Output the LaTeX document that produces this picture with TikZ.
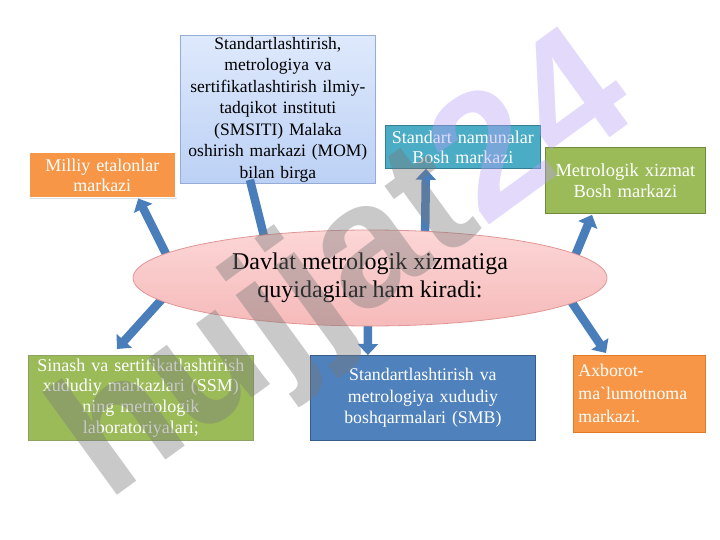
\documentclass[tikz,border=0pt]{standalone}
\usepackage{fontspec}
\setmainfont{Liberation Serif}
\newfontfamily\rawserif{Liberation Serif}[Ligatures=TeXOff]
\newfontfamily\wmfont{Liberation Sans}
\usetikzlibrary{shapes.geometric,arrows.meta,calc,shadows}
\definecolor{orangeF}{RGB}{247,150,70}
\definecolor{orangeD}{RGB}{228,122,40}
\definecolor{greenF}{RGB}{155,187,89}
\definecolor{greenD}{RGB}{113,137,63}
\definecolor{tealF}{RGB}{75,172,198}
\definecolor{tealD}{RGB}{53,125,145}
\definecolor{blueF}{RGB}{79,129,189}
\definecolor{blueD}{RGB}{56,93,138}
\definecolor{lbTop}{RGB}{222,233,252}
\definecolor{lbBot}{RGB}{188,209,245}
\definecolor{lbD}{RGB}{148,172,214}
\definecolor{pinkTop}{RGB}{252,214,214}
\definecolor{pinkBot}{RGB}{246,186,186}
\definecolor{pinkD}{RGB}{224,150,150}
\definecolor{arrowC}{RGB}{74,126,187}
\definecolor{wmGray}{RGB}{120,120,120}
\definecolor{wmViolet}{RGB}{185,160,245}
\tikzset{
  cbox/.style={rectangle, anchor=north west, inner sep=1pt, align=center,
    font=\fontsize{18}{20}\selectfont, text=white},
  barrow/.style={line width=8.5pt, draw=arrowC, -{Triangle[width=20pt,length=11pt]}},
  bline/.style={line width=8.5pt, draw=arrowC},
}
\begin{document}
\begin{tikzpicture}[x=1pt,y=-1pt]
\useasboundingbox (0,0) rectangle (720,540);

% boxes
\node[cbox, top color=lbTop, bottom color=lbBot, draw=lbD, line width=0.8pt,
  minimum width=195pt, minimum height=148pt, text width=193pt, text=black,
  font=\fontsize{17.5}{21.5}\selectfont] (smsiti) at (180,35)
  {Standartlashtirish,\\metrologiya va\\sertifikatlashtirish ilmiy-\\tadqikot instituti\\(SMSITI) Malaka\\oshirish markazi (MOM)\\bilan birga};

\node[cbox, fill=orangeF, draw=white, line width=1.5pt,
  drop shadow={opacity=0.25, shadow xshift=1.5pt, shadow yshift=-1.5pt},
  minimum width=147pt, minimum height=45pt, text width=145pt] (milliy) at (28,152)
  {Milliy etalonlar\\markazi};

\node[cbox, fill=tealF, draw=tealD, line width=0.8pt,
  minimum width=155pt, minimum height=43pt, text width=153pt] (namuna) at (385,125)
  {Standart namunalar\\Bosh markazi};

\node[cbox, fill=greenF, draw=greenD, line width=0.8pt,
  minimum width=160pt, minimum height=66pt, text width=158pt,
  font=\fontsize{18.5}{21}\selectfont] (metro) at (545,147)
  {Metrologik xizmat\\Bosh markazi};

\node[cbox, fill=greenF, draw=greenD!80, line width=0.8pt,
  minimum width=225pt, minimum height=85pt, text width=223pt,
  font=\fontsize{18}{20.7}\selectfont] (ssm) at (28,355)
  {Sinash va sertifikatlashtirish\\xududiy markazlari (SSM)\\ning metrologik\\laboratoriyalari;};

\node[cbox, fill=blueF, draw=blueD, line width=0.8pt,
  minimum width=225pt, minimum height=85pt, text width=223pt,
  font=\fontsize{17.8}{21.5}\selectfont] (smb) at (310,355)
  {Standartlashtirish va\\metrologiya xududiy\\boshqarmalari (SMB)};

\node[cbox, fill=orangeF, draw=orangeD, line width=0.8pt, align=left,
  minimum width=132pt, minimum height=77pt, text width=122pt,
  font=\rawserif\fontsize{17.8}{23}\selectfont] (axborot) at (573,355)
  {Axborot-\\ma`lumotnoma\\markazi.};

% connector end points
\coordinate (s1) at (168,258);
\coordinate (s2) at (268,252);
\coordinate (s3) at (425,244);
\coordinate (s4) at (575,256);
\coordinate (s5) at (172,288);
\coordinate (s6) at (368,296);
\coordinate (s7) at (558,282);
\coordinate (e1) at ($(milliy.south)+(36,0)$);
\coordinate (e2) at ($(smsiti.south)+(-28,-4)$);
\coordinate (e3) at ($(namuna.south)+(-37,0)$);
\coordinate (e4) at ($(metro.south west)+(47,1)$);
\coordinate (e5) at ($(ssm.north)+(-24,-6)$);
\coordinate (e6) at ($(smb.north)+(-55,0)$);
\coordinate (e7) at ($(axborot.north west)+(33,-2)$);

\draw[barrow] (s1) -- (e1);
\draw[bline] (s2) -- (e2);
\draw[barrow] (s3) -- (e3);
\draw[barrow] (s4) -- (e4);
\draw[barrow] (s5) -- (e5);
\draw[barrow] (s6) -- (e6);
\draw[barrow] (s7) -- (e7);

% central ellipse
\node[ellipse, top color=pinkTop, bottom color=pinkBot, draw=pinkD, line width=0.8pt,
  minimum width=474pt, minimum height=96pt, inner sep=0pt, align=center,
  font=\fontsize{24}{28}\selectfont] (ell) at (370,278)
  {Davlat metrologik xizmatiga\\quyidagilar ham kiradi:};

% watermark
\node[rotate=36, inner sep=0pt, font=\wmfont\bfseries\fontsize{175}{175}\selectfont,
  opacity=0.4] (wm) at (348,272)
  {\textcolor{wmGray}{hujjat}\textcolor{wmViolet}{24}};
\end{tikzpicture}
\end{document}
